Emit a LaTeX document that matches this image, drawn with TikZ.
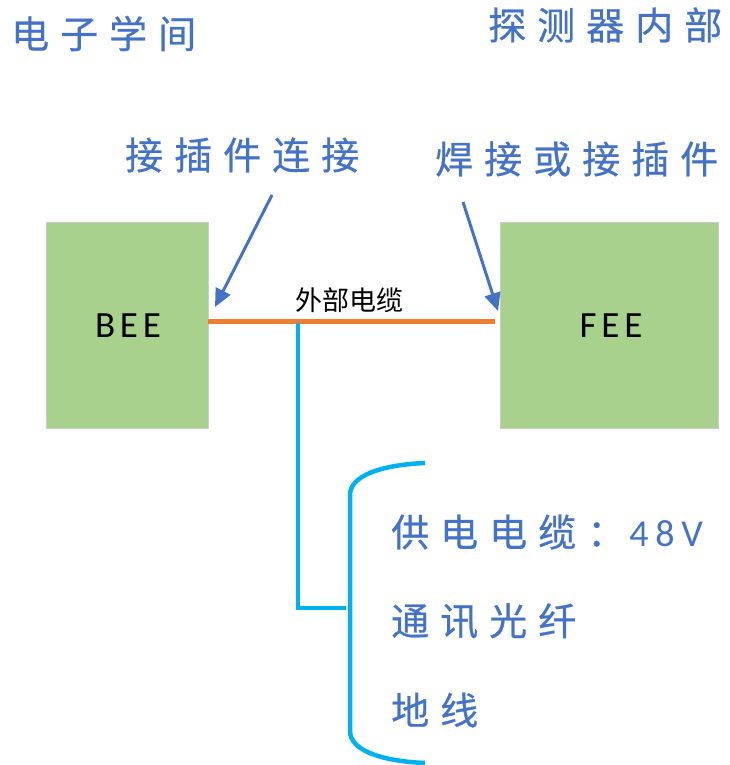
\documentclass[tikz,border=0pt]{standalone}
\usepackage{fontspec}
\usetikzlibrary{arrows.meta}
\newfontfamily\cjkfont[LetterSpace=29,FakeBold=0.6]{Noto Sans CJK SC}
\newfontfamily\cjkplain{Noto Sans CJK SC}
\newfontfamily\latfont[LetterSpace=13]{Carlito}
\newfontfamily\numfont[LetterSpace=18]{Carlito}
\definecolor{txtblue}{HTML}{4472C4}
\definecolor{cyanline}{HTML}{00B0F0}
\definecolor{orangeline}{HTML}{ED7D31}
\definecolor{boxgreen}{HTML}{A9D18E}
\definecolor{boxedge}{HTML}{C9CFC4}
\tikzset{
  bluetext/.style={anchor=west, inner sep=0pt, text=txtblue, font=\fontsize{38}{40}\selectfont\cjkfont},
  unitbox/.style={draw=boxedge, line width=0.8pt, fill=boxgreen},
  unitlabel/.style={inner sep=0pt, text=black, font=\fontsize{37}{40}\selectfont\latfont},
  callout/.style={draw=txtblue, line width=3pt, -{Triangle[length=18pt,width=16pt]}},
  cable/.style={draw=orangeline, line width=4.5pt},
  branch/.style={draw=cyanline, line width=4.5pt}
}
\begin{document}
\begin{tikzpicture}[x=1pt,y=-1pt]
\useasboundingbox (0,0) rectangle (730,765);
% titles
\node[bluetext] (roomt) at (11,33.5) {电子学间};
\node[bluetext] (dett) at (488,25) {探测器内部};
\node[bluetext] (conl) at (125,155) {接插件连接};
\node[bluetext] (conr) at (435,159) {焊接或接插件};
% boxes
\node[unitbox, minimum width=162pt, minimum height=206pt, inner sep=0pt] (beebox) at (127,325) {};
\node[unitbox, minimum width=218pt, minimum height=206pt, inner sep=0pt] (feebox) at (609,325) {};
\node[unitlabel] (bee) at (128,326) {BEE};
\node[unitlabel] (fee) at (611,326) {FEE};
% cable
\coordinate (cabs) at (beebox.east |- 0,321.5);
\coordinate (cabe) at (495,321.5);
\draw[cable] (cabs) -- (cabe);
\node[inner sep=0pt, font=\fontsize{27}{30}\selectfont\cjkplain] (cablab) at (349,300) {外部电缆};
% arrows
\coordinate (a1s) at (272,195);
\coordinate (a1e) at (215,307);
\coordinate (a2s) at (463,202);
\coordinate (a2e) at (498,311);
\draw[callout] (a1s) -- (a1e);
\draw[callout] (a2s) -- (a2e);
% branch
\coordinate (bs) at (298,323);
\coordinate (bc) at (298,608);
\coordinate (be) at (346,608);
\draw[branch, line join=miter] (bs) -- (bc) -- (be);
\coordinate (kt) at (425,463);
\coordinate (kb) at (425,763);
\draw[branch] (kt) .. controls (380,465) and (350,476) .. (350,495) -- (350,731) .. controls (350,750) and (380,761) .. (kb);
% items
\node[bluetext] (item1) at (391,532) {供电电缆：\hspace{4pt}{\numfont 48V}};
\node[bluetext] (item2) at (391,621) {通讯光纤};
\node[bluetext] (item3) at (391,710) {地线};
\end{tikzpicture}
\end{document}
